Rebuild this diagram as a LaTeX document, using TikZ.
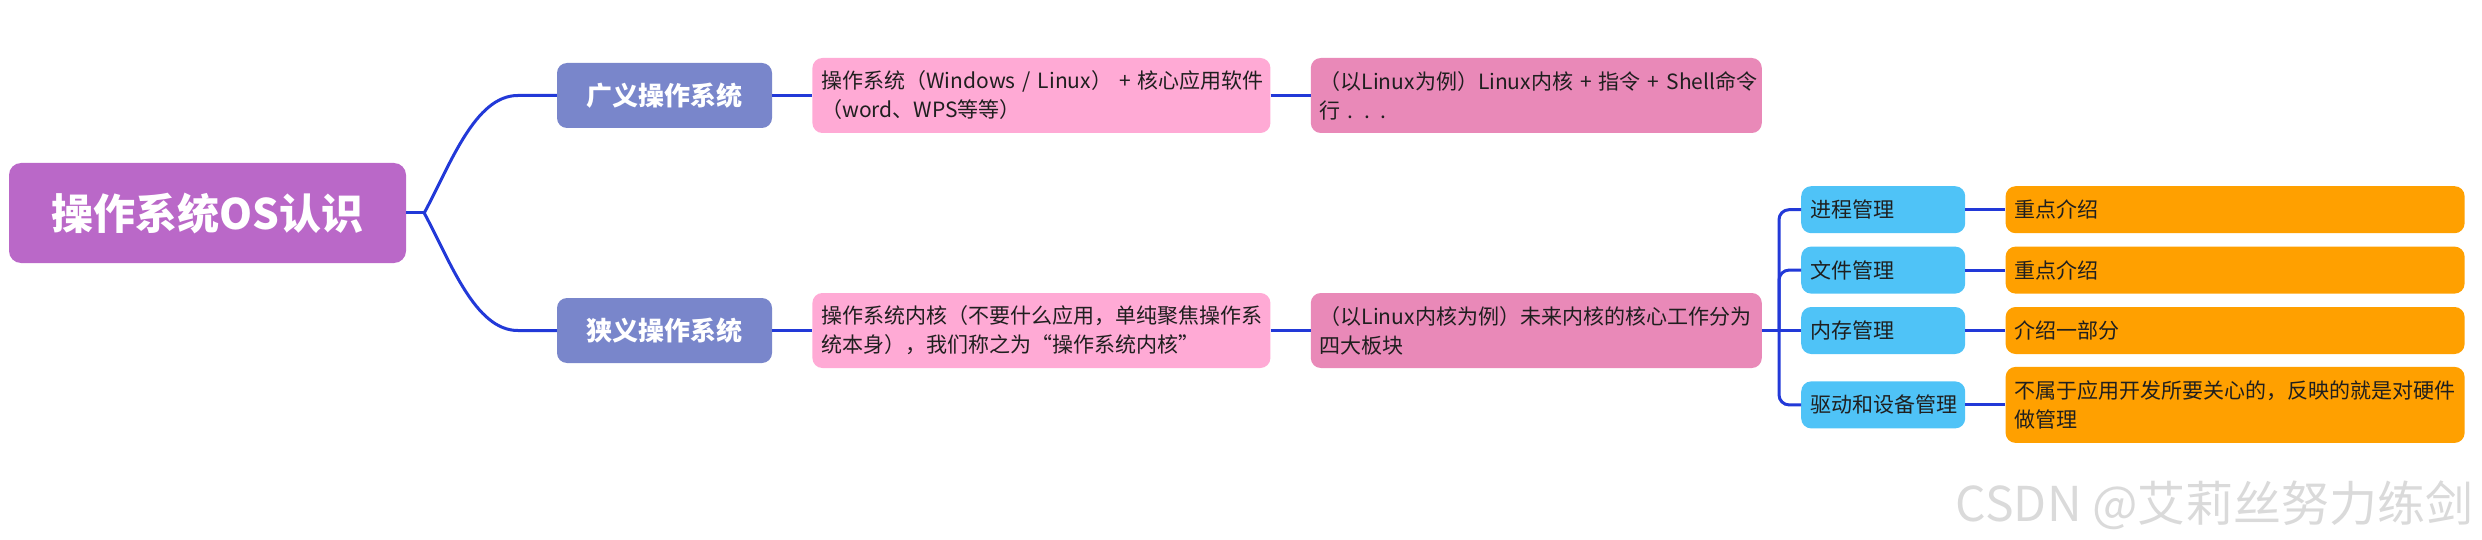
\documentclass[tikz,border=0pt]{standalone}
\usepackage{fontspec}
\setmainfont{Noto Sans CJK SC}
\usepackage{xcolor}
\usetikzlibrary{positioning}

\definecolor{rootcol}{RGB}{186,104,200}
\definecolor{levelcol}{RGB}{121,134,203}
\definecolor{desccol}{RGB}{255,170,213}
\definecolor{notecol}{RGB}{233,137,184}
\definecolor{partcol}{RGB}{79,195,247}
\definecolor{infocol}{RGB}{255,160,0}
\definecolor{linecol}{RGB}{34,57,216}
\definecolor{markcol}{RGB}{218,218,218}

\tikzset{
    box/.style={rounded corners=10pt, inner xsep=9pt, inner ysep=0pt, text=black!88,
        font=\fontsize{21}{29}\selectfont},
    rootbox/.style={box, fill=rootcol, minimum width=397pt, minimum height=100pt,
        rounded corners=12pt, text=white, font=\fontsize{42}{48}\selectfont\bfseries},
    levelbox/.style={box, fill=levelcol, minimum width=215pt, minimum height=65pt,
        text=white, font=\fontsize{26}{30}\selectfont\bfseries},
    descbox/.style={box, fill=desccol, text width=440pt, minimum height=75pt, align=left},
    notebox/.style={box, fill=notecol, text width=433pt, minimum height=75pt, align=left},
    partbox/.style={box, fill=partcol, text width=146pt, minimum height=47pt, align=left},
    infobox/.style={box, fill=infocol, text width=441pt, minimum height=47pt, align=left},
    conn/.style={draw=linecol, line width=3pt},
}

\begin{document}
\begin{tikzpicture}[x=1pt, y=-1pt]
        \useasboundingbox (0,0) rectangle (2482,540);

        \node[rootbox] (root) at (207.5,213) {操作系统OS认识};
        \node[levelbox] (wide) at (664.5,95.5) {广义操作系统};
        \node[levelbox] (narrow) at (664.5,330.5) {狭义操作系统};

        \node[descbox, right=40pt of wide] (wdesc) {\mbox{操作系统（Windows / Linux） + 核心应用软件}\\\mbox{（word、WPS等等）}};
        \node[notebox, right=40pt of wdesc] (wnote) {\mbox{（以Linux为例）Linux内核 + 指令 + Shell命令}\\\mbox{行 . . .}};
        \node[descbox, right=40pt of narrow] (ndesc) {\mbox{操作系统内核（不要什么应用，单纯聚焦操作系}\\\mbox{统本身），我们称之为“操作系统内核”}};
        \node[notebox, right=40pt of ndesc] (nnote) {\mbox{（以Linux内核为例）未来内核的核心工作分为}\\\mbox{四大板块}};

        \node[partbox, right=39pt of nnote] (mem) {内存管理};
        \node[partbox, above=13pt of mem] (file) {文件管理};
        \node[partbox, above=13pt of file] (proc) {进程管理};
        \node[partbox, below=27pt of mem] (drv) {驱动和设备管理};

        \node[infobox, right=40pt of proc] (procinfo) {重点介绍};
        \node[infobox, right=40pt of file] (fileinfo) {重点介绍};
        \node[infobox, right=40pt of mem] (meminfo) {介绍一部分};
        \node[infobox, minimum height=76pt, right=40pt of drv] (drvinfo) {\mbox{不属于应用开发所要关心的，反映的就是对硬件}\\\mbox{做管理}};

        \node[anchor=east, inner sep=0pt, text=markcol, font=\fontsize{48}{48}\selectfont] (mark) at (2474,505) {CSDN @艾莉丝努力练剑};

        \coordinate (rj) at ([xshift=18pt]root.east);
        \coordinate (wj) at ([xshift=-39pt]wide.west);
        \coordinate (nj) at ([xshift=-39pt]narrow.west);
        \coordinate (kj) at ([xshift=17pt]nnote.east);

        \draw[conn] (root.east) -- (rj);
        \draw[conn] (rj) .. controls ([xshift=26pt,yshift=48pt]rj) and ([xshift=-43pt]wj) .. (wj) -- (wide.west);
        \draw[conn] (rj) .. controls ([xshift=26pt,yshift=-48pt]rj) and ([xshift=-43pt]nj) .. (nj) -- (narrow.west);

        \draw[conn] (wide.east) -- (wdesc.west);
        \draw[conn] (wdesc.east) -- (wnote.west);
        \draw[conn] (narrow.east) -- (ndesc.west);
        \draw[conn] (ndesc.east) -- (nnote.west);

        \draw[conn] (nnote.east) -- (mem.west);
        \draw[conn, rounded corners=10pt] (kj) |- (proc.west);
        \draw[conn, rounded corners=10pt] (kj) |- (file.west);
        \draw[conn, rounded corners=10pt] (kj) |- (drv.west);

        \draw[conn] (proc.east) -- (procinfo.west);
        \draw[conn] (file.east) -- (fileinfo.west);
        \draw[conn] (mem.east) -- (meminfo.west);
        \draw[conn] (drv.east) -- (drvinfo.west);
\end{tikzpicture}
\end{document}
